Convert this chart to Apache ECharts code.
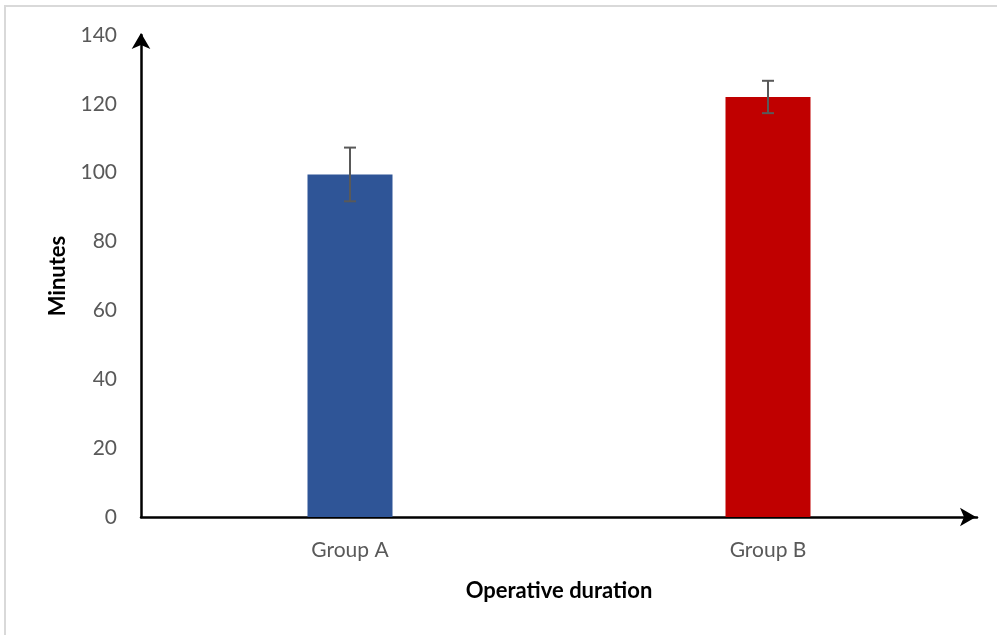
<!DOCTYPE html>
<html>
<head>
<meta charset="utf-8">
<script src="https://cdn.jsdelivr.net/npm/echarts@6/dist/echarts.min.js"></script>
<style>
  html, body { margin: 0; padding: 0; background: #fff; }
  #frame { position: absolute; left: 4px; top: 5px; width: 1000px; height: 640px;
           border-left: 2px solid #d9d9d9; border-top: 2px solid #d9d9d9; }
  #chart { position: absolute; left: 0; top: 0; width: 997px; height: 635px; }
</style>
</head>
<body>
<div id="frame"></div>
<div id="chart"></div>
<script>
var groups = ['Group A', 'Group B'];
var means = [99.5, 122];
var errors = [7.8, 4.7];
var barColors = ['#2f5597', '#c00000'];
var yTicks = [0, 20, 40, 60, 80, 100, 120, 140];

var myChart = echarts.init(document.getElementById('chart'));

var errData = [];
for (let i = 0; i < groups.length; i++) {
    errData.push([i, means[i] - errors[i], means[i] + errors[i]]);
}

option = {
    animation: false,
    textStyle: { fontFamily: 'Lato' },
    grid: {
        left: 141,
        right: 20,
        top: 35,
        bottom: 118
    },
    xAxis: {
        type: 'category',
        data: groups,
        name: 'Operative duration',
        nameLocation: 'middle',
        nameGap: 63,
        nameTextStyle: { fontSize: 22, fontWeight: 'bold', color: '#000' },
        axisLine: {
            lineStyle: { color: '#000', width: 2.5 },
            symbol: ['none', 'arrow'],
            symbolSize: [14, 16],
            symbolOffset: [0, -1]
        },
        axisTick: { show: false },
        axisLabel: { fontSize: 21, color: '#595959', margin: 23 }
    },
    yAxis: {
        type: 'value',
        min: 0,
        max: 140,
        interval: 20,
        name: 'Minutes',
        nameLocation: 'middle',
        nameGap: 72,
        nameTextStyle: { fontSize: 22, fontWeight: 'bold', color: '#000' },
        axisLine: {
            show: true,
            lineStyle: { color: '#000', width: 2.5 },
            symbol: ['none', 'arrow'],
            symbolSize: [14, 16],
            symbolOffset: [0, 2]
        },
        axisTick: { show: false },
        splitLine: { show: false },
        axisLabel: {
            fontSize: 21, color: '#595959', margin: 24,
            formatter: function (v) { return yTicks.indexOf(v) >= 0 ? String(v) : ''; }
        }
    },
    series: [
        {
            type: 'bar',
            barWidth: 85,
            data: means.map(function (v, i) {
                return { value: v, itemStyle: { color: barColors[i] } };
            }),
            z: 2
        },
        {
            type: 'custom',
            data: errData,
            z: 3,
            renderItem: function (params, api) {
                var x = api.value(0);
                var lo = api.coord([x, api.value(1)]);
                var hi = api.coord([x, api.value(2)]);
                var cap = 6;
                var style = { stroke: '#595959', lineWidth: 2 };
                return {
                    type: 'group',
                    children: [
                        { type: 'line', shape: { x1: hi[0], y1: hi[1], x2: lo[0], y2: lo[1] }, style: style },
                        { type: 'line', shape: { x1: hi[0] - cap, y1: hi[1], x2: hi[0] + cap, y2: hi[1] }, style: style },
                        { type: 'line', shape: { x1: lo[0] - cap, y1: lo[1], x2: lo[0] + cap, y2: lo[1] }, style: style }
                    ]
                };
            }
        }
    ]
};

myChart.setOption(option);
</script>
</body>
</html>
